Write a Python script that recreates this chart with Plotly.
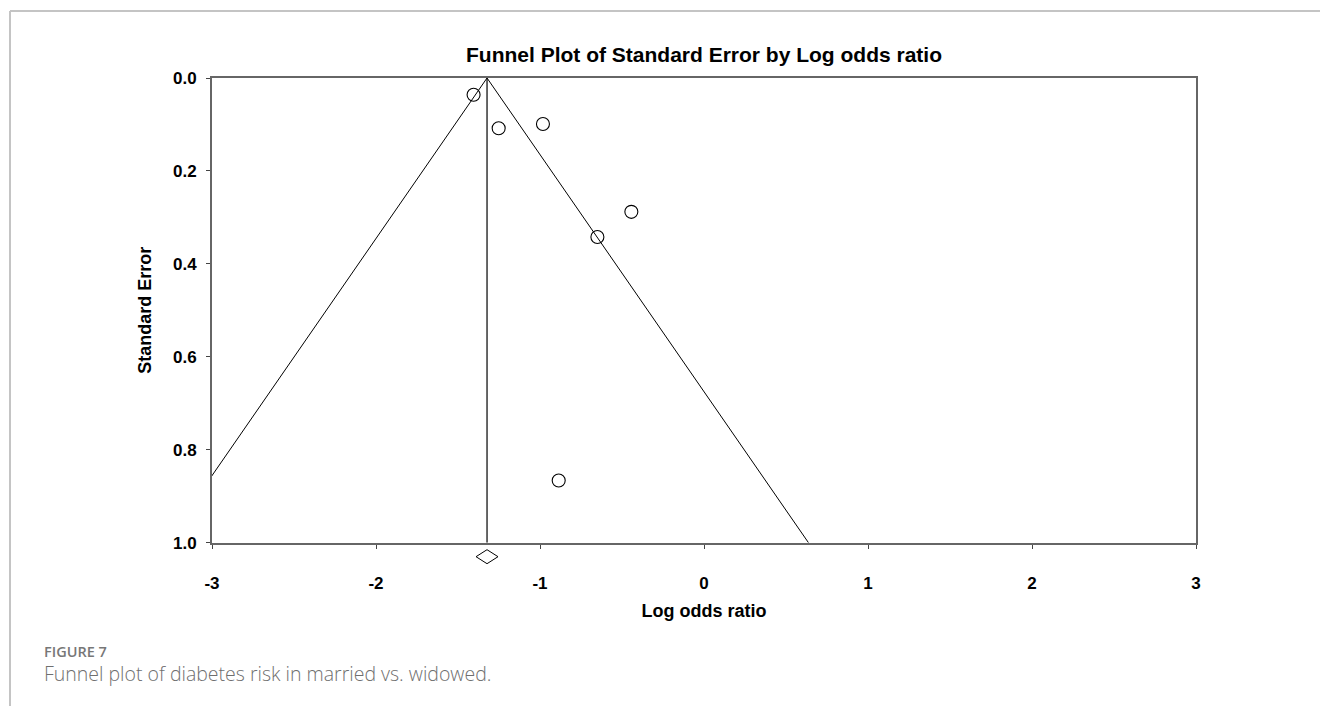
import plotly.graph_objects as go

# Study-level effects (log odds ratio) and their standard errors
log_or = [-1.405, -1.252, -0.982, -0.443, -0.650, -0.886]
std_err = [0.036, 0.108, 0.099, 0.288, 0.342, 0.866]

# Pooled estimate and its confidence interval (diamond)
pooled = -1.323
pooled_lo = -1.390
pooled_hi = -1.256

# Funnel limits drawn from SE = 0 to SE = 1
se_span = [0.0, 1.0]
z = 1.96

x_ticks = [-3, -2, -1, 0, 1, 2, 3]
y_ticks = [0.0, 0.2, 0.4, 0.6, 0.8, 1.0]

W, H = 1320, 706
ML, MR, MT, MB = 212, 124, 78, 130
PW, PH = W - ML - MR, H - MT - MB
axis_bottom_px = 542.7
main_dom0 = (H - MB - axis_bottom_px) / PH


def px_x(px):
    return (px - ML) / PW


def px_y(py):
    return (H - MB - py) / PH


BOLD = dict(family="Liberation Sans, Arial, sans-serif", color="black", weight="bold")

fig = go.Figure()

# funnel sides
fig.add_trace(go.Scatter(
    x=[pooled - z * s for s in se_span], y=se_span, mode="lines",
    line=dict(color="black", width=1), hoverinfo="skip", showlegend=False))
fig.add_trace(go.Scatter(
    x=[pooled + z * s for s in se_span], y=se_span, mode="lines",
    line=dict(color="black", width=1), hoverinfo="skip", showlegend=False))
# vertical line at pooled estimate
fig.add_trace(go.Scatter(
    x=[pooled, pooled], y=se_span, mode="lines",
    line=dict(color="black", width=1.2), hoverinfo="skip", showlegend=False))

# studies
fig.add_trace(go.Scatter(
    x=log_or, y=std_err, mode="markers",
    marker=dict(symbol="circle-open", size=13, color="black", line=dict(width=1.1)),
    showlegend=False))

# pooled diamond below the axis
fig.add_trace(go.Scatter(
    x=[pooled_lo, pooled, pooled_hi, pooled, pooled_lo], y=[0, 1, 0, -1, 0],
    xaxis="x", yaxis="y2", mode="lines", fill="toself", fillcolor="white",
    line=dict(color="black", width=1), hoverinfo="skip", showlegend=False))

fig.update_layout(
    width=W, height=H,
    margin=dict(l=ML, r=MR, t=MT, b=MB),
    paper_bgcolor="white", plot_bgcolor="white",
    showlegend=False,
    title=dict(
        text="Funnel Plot of Standard Error by Log odds ratio",
        font=dict(size=21, **BOLD),
        x=0.5, xref="paper", xanchor="center",
        y=1 - 55 / H, yref="container", yanchor="middle"),
    xaxis=dict(
        range=[-3, 3], tickvals=x_ticks, ticktext=[str(v) for v in x_ticks],
        showgrid=False, zeroline=False,
        showline=True, linecolor="#666666", linewidth=2, mirror=True,
        ticks="outside", ticklen=4, tickcolor="#444444", tickwidth=1,
        tickfont=dict(size=17, **BOLD), ticklabelstandoff=20,
        title=dict(text="Log odds ratio", font=dict(size=18, **BOLD), standoff=12),
        anchor="y"),
    yaxis=dict(
        range=[1.0, 0.0], domain=[main_dom0, 1],
        tickvals=y_ticks, tickformat=".1f",
        showgrid=False, zeroline=False,
        showline=True, linecolor="#666666", linewidth=2, mirror=True,
        ticks="outside", ticklen=4, tickcolor="#444444", tickwidth=1,
        tickfont=dict(size=17, **BOLD), ticklabelstandoff=6,
        title=dict(text="Standard Error", font=dict(size=18, **BOLD), standoff=17)),
    yaxis2=dict(
        domain=[0, main_dom0], range=[-2.76, 2.0], anchor="x",
        visible=False, fixedrange=True),
)

# page frame lines
frame = dict(color="#c4c4c4", width=2)
fig.add_shape(type="line", xref="paper", yref="paper",
              x0=px_x(10), x1=px_x(W), y0=px_y(11), y1=px_y(11), line=frame)
fig.add_shape(type="line", xref="paper", yref="paper",
              x0=px_x(10), x1=px_x(10), y0=px_y(11), y1=px_y(H), line=frame)

# caption
fig.add_annotation(
    text="FIGURE 7", xref="paper", yref="paper",
    x=px_x(42), y=px_y(651), xanchor="left", yanchor="middle", showarrow=False,
    font=dict(family="Open Sans, sans-serif", size=14.5, color="#777777", weight=600))
fig.add_annotation(
    text="Funnel plot of diabetes risk in married vs. widowed.", xref="paper", yref="paper",
    x=px_x(42), y=px_y(673), xanchor="left", yanchor="middle", showarrow=False,
    font=dict(family="Open Sans, sans-serif", size=19.5, color="#6f6f6f", weight=300))

fig.write_html("out.html")
